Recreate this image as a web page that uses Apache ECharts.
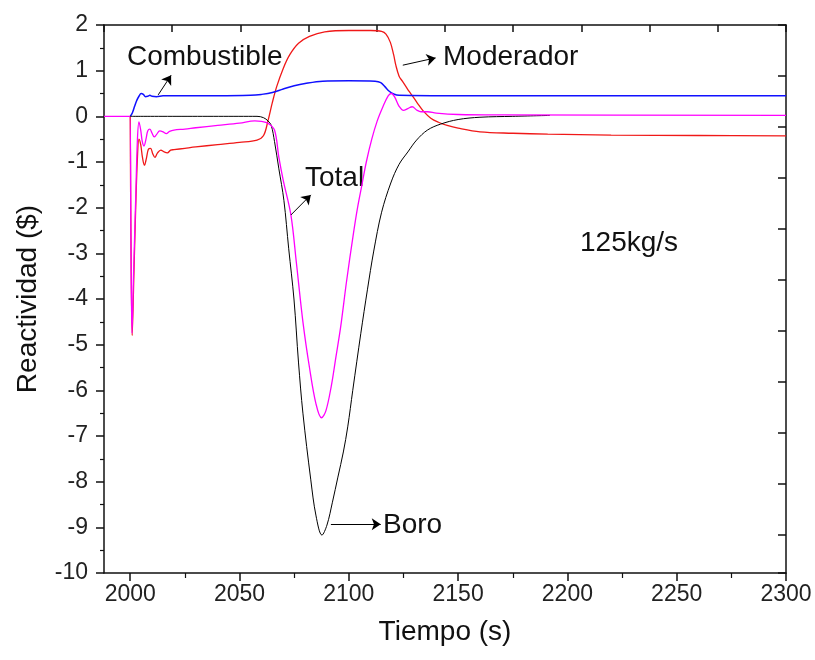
<!DOCTYPE html>
<html>
<head>
<meta charset="utf-8">
<script src="https://cdn.jsdelivr.net/npm/echarts@6/dist/echarts.min.js"></script>
<style>
  html, body { margin: 0; padding: 0; background: #fff; }
  #main { width: 815px; height: 660px; }
</style>
</head>
<body>
<div id="main"></div>
<script>
// tick values
var xTicks = [2000, 2050, 2100, 2150, 2200, 2250, 2300];
var xMinorTicks = [2025, 2075, 2125, 2175, 2225, 2275];

// Moderador (red)
var tModerador = [2000, 2000.3, 2000.9, 2001.6, 2002.5, 2003.3, 2004, 2004.8, 2005.6, 2006.5, 2007.4, 2008.3, 2009.3, 2010.3, 2011.3, 2012.5, 2014, 2015.5, 2017, 2018.5, 2020, 2025, 2030, 2040, 2050, 2058, 2061, 2063, 2065, 2067, 2070, 2073, 2077, 2082, 2089, 2100, 2110, 2115, 2117, 2119, 2120.5, 2121.5, 2123, 2124.5, 2126, 2127.5, 2129.5, 2131.5, 2134, 2137.5, 2141, 2145, 2150, 2160, 2175, 2191, 2220, 2260, 2300];
var vModerador = [0, -2.5, -4.8, -3.6, -2.0, -0.9, -0.5, -0.62, -0.9, -1.07, -0.92, -0.72, -0.7, -0.82, -0.9, -0.8, -0.74, -0.78, -0.8, -0.74, -0.73, -0.7, -0.67, -0.62, -0.57, -0.52, -0.42, -0.1, 0.3, 0.65, 1.05, 1.35, 1.6, 1.75, 1.85, 1.88, 1.88, 1.86, 1.8, 1.62, 1.35, 1.12, 0.88, 0.77, 0.66, 0.55, 0.42, 0.28, 0.12, -0.04, -0.13, -0.2, -0.26, -0.34, -0.37, -0.39, -0.41, -0.42, -0.43];

// Combustible (blue)
var tCombustible = [2000, 2001, 2002, 2003, 2004, 2005, 2006, 2007, 2008, 2009, 2010, 2012, 2015, 2020, 2040, 2055, 2060, 2065, 2070, 2075, 2080, 2088, 2100, 2112, 2114.6, 2116.5, 2118.5, 2120.5, 2123, 2150, 2300];
var vCombustible = [0, 0.08, 0.22, 0.35, 0.44, 0.5, 0.48, 0.43, 0.44, 0.46, 0.44, 0.43, 0.45, 0.45, 0.45, 0.46, 0.48, 0.52, 0.6, 0.67, 0.72, 0.77, 0.78, 0.77, 0.74, 0.65, 0.55, 0.49, 0.46, 0.45, 0.45];

// Boro (black)
var tBoro = [2000, 2058, 2061, 2063, 2064.5, 2066, 2068, 2070.3, 2072.5, 2074.9, 2077, 2079, 2082.6, 2085, 2087.7, 2090, 2092.5, 2095, 2097.5, 2099.5, 2101.8, 2105.5, 2108.5, 2111.4, 2115, 2119.2, 2123, 2127, 2131, 2136, 2142, 2150, 2160, 2175, 2192];
var vBoro = [0, 0, -0.03, -0.1, -0.2, -0.55, -1.15, -1.84, -2.9, -4.0, -5.4, -6.5, -7.96, -8.75, -9.17, -8.95, -8.45, -7.9, -7.35, -6.8, -6.0, -4.75, -3.8, -2.95, -2.1, -1.46, -1.05, -0.78, -0.52, -0.3, -0.17, -0.07, -0.02, 0.0, 0.02];

// Total (magenta)
var tTotal = [1988, 1999.8, 2000.3, 2000.8, 2001.5, 2002.5, 2003.3, 2004, 2004.8, 2005.5, 2006.3, 2007.2, 2008, 2009, 2010, 2011, 2012, 2013.5, 2015, 2016.5, 2018, 2020, 2025, 2030, 2040, 2050, 2057, 2060, 2063, 2066, 2068, 2070, 2073.5, 2076, 2079, 2082, 2085, 2087.5, 2089.5, 2092, 2094, 2096.3, 2099, 2102, 2104, 2106, 2108, 2110.5, 2113, 2115.5, 2118, 2119.5, 2121, 2123, 2125, 2127, 2129, 2131, 2133, 2136, 2140, 2150, 2170, 2300];
var vTotal = [0, 0, -2.5, -4.75, -3.5, -1.8, -0.5, -0.12, -0.3, -0.55, -0.65, -0.5, -0.32, -0.28, -0.37, -0.45, -0.4, -0.32, -0.34, -0.38, -0.33, -0.3, -0.28, -0.25, -0.2, -0.15, -0.1, -0.11, -0.15, -0.3, -0.9, -1.4, -2.16, -3.2, -4.5, -5.5, -6.3, -6.6, -6.45, -5.9, -5.3, -4.6, -3.6, -2.6, -2.0, -1.5, -1.0, -0.5, -0.1, 0.2, 0.45, 0.5, 0.42, 0.22, 0.13, 0.17, 0.21, 0.14, 0.1, 0.1, 0.07, 0.04, 0.03, 0.02];

function pairs(t, v) {
    return t.map(function (x, i) { return [x, v[i]]; });
}

var font = '"Liberation Sans", Arial, sans-serif';

function arrow(from, to) {
    return {
        silent: true,
        animation: false,
        symbol: ['none', 'arrow'],
        symbolSize: 9,
        lineStyle: { color: '#000', width: 1, type: 'solid' },
        label: { show: false },
        emphasis: { disabled: true },
        data: [[{ coord: from }, { coord: to }]]
    };
}

var chart = echarts.init(document.getElementById('main'));

var option = {
    backgroundColor: '#fff',
    animation: false,
    grid: { left: 104, right: 29, top: 25, bottom: 87 },
    xAxis: [
        {
            type: 'value',
            position: 'bottom',
            min: 1988,
            max: 2300,
            name: 'Tiempo (s)',
            nameLocation: 'middle',
            nameGap: 45,
            nameTextStyle: { fontSize: 28, color: '#111', fontFamily: font },
            axisLine: { onZero: false, lineStyle: { color: '#111', width: 1.5 } },
            axisTick: { customValues: xTicks, length: 8, lineStyle: { color: '#111', width: 1.5 } },
            axisLabel: {
                customValues: xTicks, fontSize: 23, color: '#222', margin: 10, fontFamily: font,
                formatter: function (v) { return String(v); }
            },
            splitLine: { show: false }
        },
        {
            type: 'value',
            position: 'top',
            min: 0,
            max: 10,
            interval: 1,
            axisLine: { onZero: false, lineStyle: { color: '#111', width: 1.5 } },
            axisTick: { inside: true, length: 7, lineStyle: { color: '#111', width: 1.5 } },
            axisLabel: { show: false },
            splitLine: { show: false }
        },
        {
            type: 'value',
            position: 'bottom',
            min: 1988,
            max: 2300,
            axisLine: { show: false, onZero: false },
            axisTick: { customValues: xMinorTicks, length: 5, lineStyle: { color: '#111', width: 1.2 } },
            axisLabel: { show: false },
            splitLine: { show: false }
        }
    ],
    yAxis: [
        {
            type: 'value',
            min: -10,
            max: 2,
            interval: 1,
            name: 'Reactividad ($)',
            nameLocation: 'middle',
            nameGap: 62,
            nameTextStyle: { fontSize: 28, color: '#111', fontFamily: font },
            axisLine: { show: true, onZero: false, lineStyle: { color: '#111', width: 1.5 } },
            axisTick: { length: 8, lineStyle: { color: '#111', width: 1.5 } },
            minorTick: { show: true, splitNumber: 2, length: 4, lineStyle: { color: '#111', width: 1.2 } },
            axisLabel: { fontSize: 23, color: '#222', margin: 16, fontFamily: font },
            splitLine: { show: false }
        },
        {
            type: 'value',
            position: 'right',
            inverse: true,
            min: 0,
            max: 10.75,
            interval: 1,
            axisLine: { show: true, onZero: false, lineStyle: { color: '#111', width: 1.5 } },
            axisTick: { inside: true, length: 8, lineStyle: { color: '#111', width: 1.5 } },
            axisLabel: { show: false },
            splitLine: { show: false }
        }
    ],
    series: [
        {
            name: 'Moderador',
            type: 'line',
            showSymbol: false,
            smooth: 0.35,
            lineStyle: { color: '#f01818', width: 1.3 },
            data: pairs(tModerador, vModerador),
            markLine: arrow([2124.7, 1.12], [2139.7, 1.28])
        },
        {
            name: 'Combustible',
            type: 'line',
            showSymbol: false,
            smooth: 0.35,
            lineStyle: { color: '#1010ff', width: 1.5 },
            data: pairs(tCombustible, vCombustible),
            markLine: arrow([2012.8, 0.47], [2018.7, 0.9])
        },
        {
            name: 'Boro',
            type: 'line',
            showSymbol: false,
            smooth: 0.35,
            lineStyle: { color: '#000', width: 1 },
            data: pairs(tBoro, vBoro),
            markLine: arrow([2091.8, -8.93], [2114.6, -8.93])
        },
        {
            name: 'Total',
            type: 'line',
            showSymbol: false,
            smooth: 0.35,
            lineStyle: { color: '#ff00ff', width: 1.3 },
            data: pairs(tTotal, vTotal),
            markLine: arrow([2073.5, -2.16], [2082.6, -1.72])
        }
    ],
    graphic: [
        { type: 'text', left: 127, top: 43, style: { text: 'Combustible', font: '28px ' + font, fill: '#111' } },
        { type: 'text', left: 443, top: 43, style: { text: 'Moderador', font: '28px ' + font, fill: '#111' } },
        { type: 'text', left: 305, top: 164, style: { text: 'Total', font: '28px ' + font, fill: '#111' } },
        { type: 'text', left: 383, top: 511, style: { text: 'Boro', font: '28px ' + font, fill: '#111' } },
        { type: 'text', left: 580, top: 229, style: { text: '125kg/s', font: '28px ' + font, fill: '#111' } }
    ]
};

chart.setOption(option);
</script>
</body>
</html>
